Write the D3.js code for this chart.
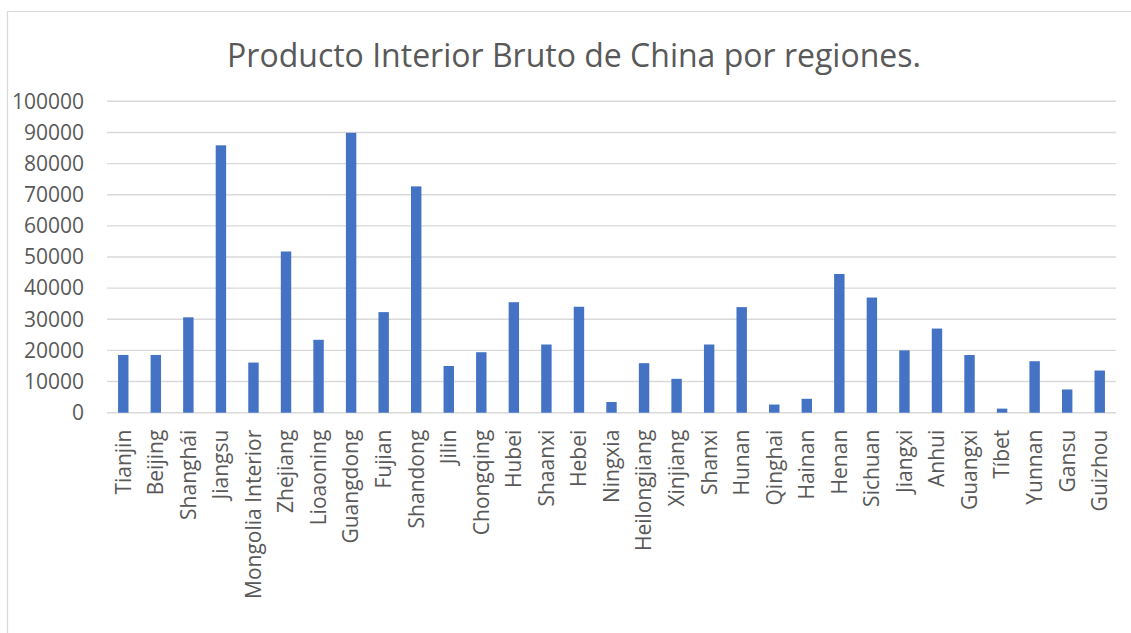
<!DOCTYPE html>
<html>
<head>
<meta charset="utf-8">
<script src="https://cdn.jsdelivr.net/npm/d3@7"></script>
<style>
  html, body { margin: 0; padding: 0; background: #fff; }
  svg { display: block; }
  text { font-family: "Open Sans", "Noto Sans", sans-serif; fill: #595959; }
</style>
</head>
<body>
<svg id="chart" width="1131" height="633"></svg>
<script>
const title = "Producto Interior Bruto de China por regiones.";
const regions = ["Tianjin","Beijing","Shanghái","Jiangsu","Mongolia Interior","Zhejiang","Lioaoning","Guangdong","Fujian","Shandong","Jilin","Chongqing","Hubei","Shaanxi","Hebei","Ningxia","Heilongjiang","Xinjiang","Shanxi","Hunan","Qinghai","Hainan","Henan","Sichuan","Jiangxi","Anhui","Guangxi","Tíbet","Yunnan","Gansu","Guizhou"];
const gdp = [18550,18550,30630,85870,16100,51770,23410,89880,32300,72680,15000,19420,35480,21900,34020,3440,15900,10880,21900,33900,2620,4460,44550,36980,20010,27020,18520,1310,16530,7460,13540];
const yTicks = [0,10000,20000,30000,40000,50000,60000,70000,80000,90000,100000];

const svg = d3.select("#chart");
const W = 1131, H = 633;
const plot = { left: 107, right: 1116, top: 101.3, bottom: 412.7 };

// chart area border (left and top edges visible)
svg.append("path")
  .attr("d", `M7.5,${H} L7.5,11.5 L${W},11.5`)
  .attr("fill", "none").attr("stroke", "#d9d9d9").attr("stroke-width", 1.2);

const x = d3.scaleBand().domain(regions).range([plot.left, plot.right]).paddingInner(0.68).paddingOuter(0.34);
const y = d3.scaleLinear().domain([0, 100000]).range([plot.bottom, plot.top]);

// gridlines
svg.append("g").selectAll("line").data(yTicks).join("line")
  .attr("x1", plot.left).attr("x2", plot.right)
  .attr("y1", d => y(d)).attr("y2", d => y(d))
  .attr("stroke", "#d9d9d9").attr("stroke-width", 1.4);

// y axis labels
const yAxis = d3.axisLeft(y).tickValues(yTicks).tickSize(0).tickPadding(0).tickFormat(d3.format("d"));
const gy = svg.append("g").attr("transform", `translate(84,0)`).call(yAxis);
gy.select(".domain").remove();
gy.selectAll("text").attr("font-size", 21).style("font-family", '"Open Sans", sans-serif').attr("fill", "#595959");

// bars
svg.append("g").selectAll("rect").data(gdp).join("rect")
  .attr("x", (d, i) => x(regions[i]))
  .attr("width", x.bandwidth())
  .attr("y", d => y(d))
  .attr("height", d => y(0) - y(d))
  .attr("fill", "#4472c4");

// x axis labels
const xAxis = d3.axisBottom(x).tickSize(0).tickPadding(0);
const gx = svg.append("g").attr("transform", `translate(0,${plot.bottom})`).call(xAxis);
gx.select(".domain").remove();
gx.selectAll("text")
  .attr("font-size", 21).style("font-family", '"Open Sans", sans-serif').attr("fill", "#595959")
  .attr("text-anchor", "end")
  .attr("transform", "rotate(-90)")
  .attr("x", -17).attr("y", 0).attr("dy", "0.35em");

// title
svg.append("text")
  .attr("x", 574).attr("y", 67)
  .attr("text-anchor", "middle")
  .attr("font-size", 32)
  .text(title);
</script>
</body>
</html>
